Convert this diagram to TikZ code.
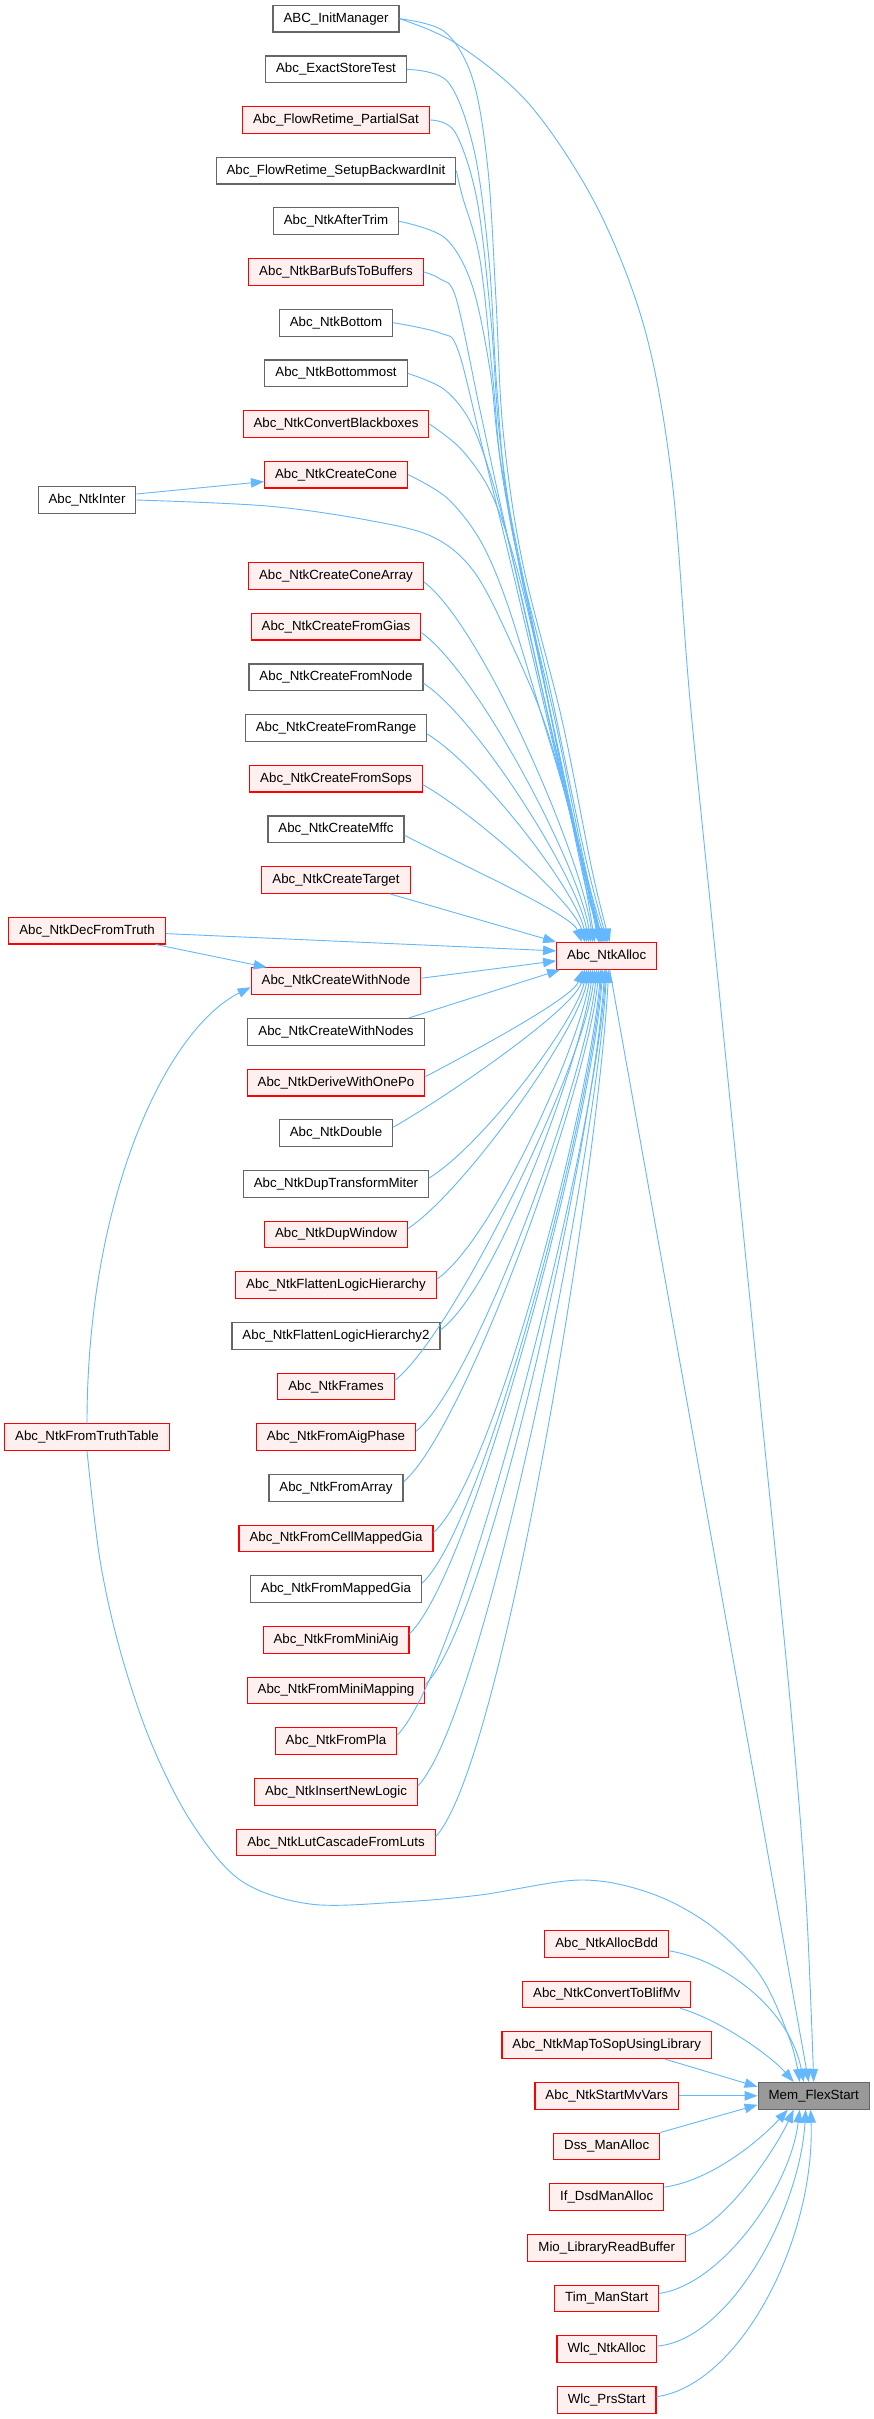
\documentclass[tikz,border=0pt]{standalone}
\usepackage{fontspec}
\setmainfont{Liberation Sans}
\usetikzlibrary{arrows.meta,calc}
\definecolor{edgec}{HTML}{63B8FF}
\definecolor{redb}{HTML}{FF0000}
\definecolor{redf}{HTML}{FFF0F0}
\definecolor{grayb}{HTML}{666666}
\definecolor{grayf}{HTML}{999999}
\begin{document}
\begin{tikzpicture}[x=1pt,y=-1pt,
  box/.style={rectangle, draw, line width=1.1pt, minimum height=26.7pt, inner xsep=10.5pt, inner ysep=0pt, font=\fontsize{13.3}{15}\selectfont, text=black, anchor=center},
  rb/.style={box, draw=redb, fill=redf},
  gb/.style={box, draw=grayb, fill=white},
  hb/.style={box, draw=grayb, fill=grayf},
  e/.style={draw=edgec, line width=0.9pt, -{Triangle[length=13pt,width=9.5pt]}},
  sm/.style={smooth, tension=0.55}
]
\fill[white] (0,0) rectangle (874,2419);
\useasboundingbox (0,0) rectangle (874,2419);

% middle column
\node[gb] (n0) at (336,18.7) {ABC\_InitManager};
\node[gb] (n1) at (336,69.4) {Abc\_ExactStoreTest};
\node[rb] (n2) at (336,120.0) {Abc\_FlowRetime\_PartialSat};
\node[gb] (n3) at (336,170.7) {Abc\_FlowRetime\_SetupBackwardInit};
\node[gb] (n4) at (336,221.3) {Abc\_NtkAfterTrim};
\node[rb] (n5) at (336,272.0) {Abc\_NtkBarBufsToBuffers};
\node[gb] (n6) at (336,322.7) {Abc\_NtkBottom};
\node[gb] (n7) at (336,373.3) {Abc\_NtkBottommost};
\node[rb] (n8) at (336,424.0) {Abc\_NtkConvertBlackboxes};
\node[rb] (n9) at (336,474.6) {Abc\_NtkCreateCone};
\node[gb] (ni) at (87,500.0) {Abc\_NtkInter};
\node[rb] (n11) at (336,576.0) {Abc\_NtkCreateConeArray};
\node[rb] (n12) at (336,626.6) {Abc\_NtkCreateFromGias};
\node[gb] (n13) at (336,677.3) {Abc\_NtkCreateFromNode};
\node[gb] (n14) at (336,728.0) {Abc\_NtkCreateFromRange};
\node[rb] (n15) at (336,778.6) {Abc\_NtkCreateFromSops};
\node[gb] (n16) at (336,829.3) {Abc\_NtkCreateMffc};
\node[rb] (n17) at (336,879.9) {Abc\_NtkCreateTarget};
\node[rb] (dft) at (87,930.6) {Abc\_NtkDecFromTruth};
\node[rb] (alloc) at (606.7,955.9) {Abc\_NtkAlloc};
\node[rb] (n19) at (336,981.2) {Abc\_NtkCreateWithNode};
\node[gb] (n20) at (336,1031.9) {Abc\_NtkCreateWithNodes};
\node[rb] (n21) at (336,1082.6) {Abc\_NtkDeriveWithOnePo};
\node[gb] (n22) at (336,1133.2) {Abc\_NtkDouble};
\node[gb] (n23) at (336,1183.9) {Abc\_NtkDupTransformMiter};
\node[rb] (n24) at (336,1234.5) {Abc\_NtkDupWindow};
\node[rb] (n25) at (336,1285.2) {Abc\_NtkFlattenLogicHierarchy};
\node[gb] (n26) at (336,1335.9) {Abc\_NtkFlattenLogicHierarchy2};
\node[rb] (n27) at (336,1386.5) {Abc\_NtkFrames};
\node[rb] (n28) at (336,1437.2) {Abc\_NtkFromAigPhase};
\node[rb] (ftt) at (87,1437.2) {Abc\_NtkFromTruthTable};
\node[gb] (n29) at (336,1487.8) {Abc\_NtkFromArray};
\node[rb] (n30) at (336,1538.5) {Abc\_NtkFromCellMappedGia};
\node[gb] (n31) at (336,1589.2) {Abc\_NtkFromMappedGia};
\node[rb] (n32) at (336,1639.8) {Abc\_NtkFromMiniAig};
\node[rb] (n33) at (336,1690.5) {Abc\_NtkFromMiniMapping};
\node[rb] (n34) at (336,1741.1) {Abc\_NtkFromPla};
\node[rb] (n35) at (336,1791.8) {Abc\_NtkInsertNewLogic};
\node[rb] (n36) at (336,1842.5) {Abc\_NtkLutCascadeFromLuts};

% right column
\node[rb] (m38) at (606.7,1943.8) {Abc\_NtkAllocBdd};
\node[rb] (m39) at (606.7,1994.4) {Abc\_NtkConvertToBlifMv};
\node[rb] (m40) at (606.7,2045.1) {Abc\_NtkMapToSopUsingLibrary};
\node[rb] (m41) at (606.7,2095.8) {Abc\_NtkStartMvVars};
\node[rb] (m42) at (606.7,2146.4) {Dss\_ManAlloc};
\node[rb] (m43) at (606.7,2197.1) {If\_DsdManAlloc};
\node[rb] (m44) at (606.7,2247.7) {Mio\_LibraryReadBuffer};
\node[rb] (m45) at (606.7,2298.4) {Tim\_ManStart};
\node[rb] (m46) at (606.7,2349.1) {Wlc\_NtkAlloc};
\node[rb] (m47) at (606.7,2399.7) {Wlc\_PrsStart};
\node[hb] (mfs) at (813.7,2095.8) {Mem\_FlexStart};

% tip coordinates on Abc_NtkAlloc top
\coordinate (t0) at ($(alloc.north)+(3,0)$);
\coordinate (t1) at ($(alloc.north)+(1,0)$);
\coordinate (t2) at ($(alloc.north)+(0,0)$);
\coordinate (t3) at ($(alloc.north)+(-1,0)$);
\coordinate (t4) at ($(alloc.north)+(-2,0)$);
\coordinate (t5) at ($(alloc.north)+(-4,0)$);
\coordinate (t6) at ($(alloc.north)+(-5,0)$);
\coordinate (t7) at ($(alloc.north)+(-6,0)$);
\coordinate (t8) at ($(alloc.north)+(-7,0)$);
\coordinate (t9) at ($(alloc.north)+(-8,0)$);
\coordinate (tI) at ($(alloc.north)+(-12,0)$);
\coordinate (u0) at (mfs.north);
\coordinate (uf) at ($(mfs.north)+(-14,0)$);

% far upper edges to Abc_NtkAlloc
\draw[e] plot[sm] coordinates {(n0.east) (445,32) (473,80) (488,170) (496,300) (503,430) (522,560) (562,720) (592,870) (t0)};
\draw[e] plot[sm] coordinates {(n1.east) (448,82) (474,150) (489,260) (497,390) (510,520) (548,680) (586,860) (t1)};
\draw[e] plot[sm] coordinates {(n2.east) (455,132) (477,200) (491,320) (500,440) (520,570) (555,720) (588,880) (t2)};
\draw[e] plot[sm] coordinates {(n3.east) (462,195) (480,260) (493,380) (503,480) (535,640) (586,880) (t3)};
\draw[e] plot[sm] coordinates {(n4.east) (445,238) (472,285) (490,370) (502,470) (540,660) (584,880) (t4)};
\draw[e] plot[sm] coordinates {(n5.east) (440,279) (456,298) (480,410) (505,525) (555,745) (t5)};
\draw[e] plot[sm] coordinates {(n6.east) (440,333) (458,350) (483,450) (510,560) (557,760) (t6)};
\draw[e] plot[sm] coordinates {(n7.east) (445,390) (472,425) (495,490) (520,590) (560,770) (t7)};
\draw[e] plot[sm] coordinates {(n8.east) (460,448) (487,485) (507,535) (530,620) (565,780) (t8)};
\draw[e] plot[sm] coordinates {(n9.east) (447,498) (480,540) (506,600) (537,700) (572,820) (t9)};
\draw[e] plot[sm] coordinates {(ni.east) (267,506) (367,520) (433,537) (475,573) (513,647) (547,730) (578,847) (tI)};

% nearer upper edges
\foreach \n/\r/\ex in {n11/11/-14, n12/12/-16, n13/13/-18, n14/14/-20, n15/15/-22, n16/16/-25}{
  \pgfmathsetmacro\D{(18.5-\r)*50.66}
  \pgfmathsetmacro\ax{50+0.02*\D}
  \pgfmathsetmacro\ay{20+0.06*\D}
  \pgfmathsetmacro\cy{-0.22*\D}
  \draw[e] ($(\n.east)+(0,6)$) .. controls +(\ax,\ay) and +(-10,\cy) .. ($(alloc.north)+(\ex,0)$);
}
\draw[e] ($(n17.south east)+(-21,0)$) -- (alloc.north west);
\draw[e] ($(dft.east)+(0,3)$) -- ($(alloc.west)+(0,-5)$);
\draw[e] ($(n19.east)+(0,-3)$) -- ($(alloc.west)+(0,5)$);
\draw[e] ($(n20.north east)+(-16,0)$) -- ($(alloc.south west)+(4,0)$);

% lower edges to Abc_NtkAlloc
\foreach \n/\r/\ex in {n21/21/-24, n22/22/-22, n23/23/-20, n24/24/-18, n25/25/-16, n26/26/-14, n27/27/-12, n28/28/-10, n29/29/-8, n30/30/-6, n31/31/-5, n32/32/-4, n33/33/-2, n34/34/-1, n35/35/0, n36/36/2}{
  \pgfmathsetmacro\D{(\r-18.5)*50.66}
  \pgfmathsetmacro\ax{50+0.02*\D}
  \pgfmathsetmacro\ay{-(20+0.06*\D)}
  \pgfmathsetmacro\cy{0.22*\D}
  \draw[e] ($(\n.east)+(0,-6)$) .. controls +(\ax,\ay) and +(-10,\cy) .. ($(alloc.south)+(\ex,0)$);
}

% left column edges
\draw[e] ($(ni.east)+(0,-6)$) -- ($(n9.west)+(0,7)$);
\draw[e] ($(dft.south east)+(-10,0)$) -- ($(n19.north west)+(16,0)$);
\draw[e] (ftt.north) .. controls (87,1200) and (165,1030) .. ($(n19.west)+(0,6)$);
\draw[e] plot[sm] coordinates {(ftt.south) (100,1560) (120,1650) (150,1740) (190,1820) (240,1880) (310,1904) (400,1902) (480,1895) (580,1880) (650,1893) (710,1925) (760,1975) (790,2040) (uf)};

% edges to Mem_FlexStart
\draw[e] plot[sm] coordinates {(n0.east) (457,44) (530,105) (597,207) (645,330) (672,480) (690,700) (718,980) (760,1400) (790,1700) (806,1900) (u0)};
\draw[e] ($(alloc.south)+(3,0)$) -- ($(mfs.north)+(-5,0)$);
\draw[e] ($(m38.east)+(0,7)$) .. controls (725,1960) and (790,2010) .. ($(mfs.north)+(-10,0)$);
\draw[e] ($(m39.south east)+(-11,0)$) .. controls (720,2020) and (770,2055) .. ($(mfs.north)+(-20,0)$);
\draw[e] ($(m40.south)+(58,0)$) -- ($(mfs.west)+(0,-9)$);
\draw[e] (m41.east) -- (mfs.west);
\draw[e] (m42.north east) -- ($(mfs.west)+(0,9)$);
\draw[e] ($(m43.east)+(0,-10)$) .. controls (715,2180) and (765,2135) .. ($(mfs.south)+(-26,0)$);
\draw[e] ($(m44.east)+(0,-12)$) .. controls (725,2225) and (775,2150) .. ($(mfs.south)+(-20,0)$);
\draw[e] ($(m45.east)+(0,-5)$) .. controls (720,2285) and (790,2190) .. ($(mfs.south)+(-14,0)$);
\draw[e] ($(m46.east)+(0,-3)$) .. controls (730,2340) and (800,2210) .. ($(mfs.south)+(-8,0)$);
\draw[e] ($(m47.east)+(0,-3)$) .. controls (740,2385) and (815,2240) .. ($(mfs.south)+(-3,0)$);
\end{tikzpicture}
\end{document}
